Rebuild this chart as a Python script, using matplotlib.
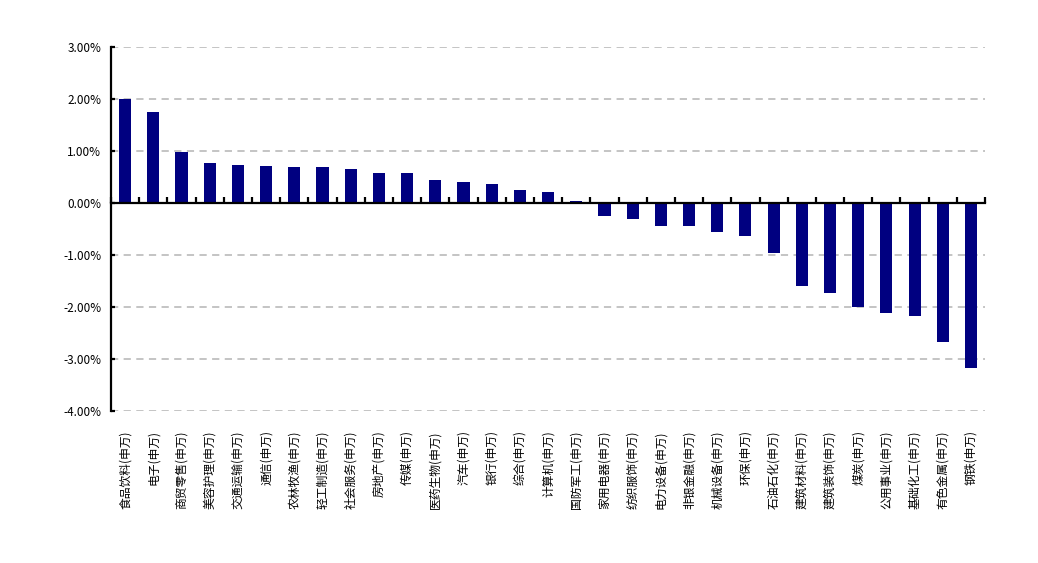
import numpy as np
import matplotlib.pyplot as plt
from matplotlib.ticker import FuncFormatter, MultipleLocator

plt.rcParams['font.family'] = ['Noto Sans CJK SC', 'DejaVu Sans']

industries = ['食品饮料', '电子', '商贸零售', '美容护理', '交通运输', '通信', '农林牧渔',
              '轻工制造', '社会服务', '房地产', '传媒', '医药生物', '汽车', '银行', '综合',
              '计算机', '国防军工', '家用电器', '纺织服饰', '电力设备', '非银金融', '机械设备',
              '环保', '石油石化', '建筑材料', '建筑装饰', '煤炭', '公用事业', '基础化工',
              '有色金属', '钢铁']
labels = [name + '(申万)' for name in industries]
returns = [2.00, 1.75, 0.98, 0.77, 0.73, 0.71, 0.69, 0.69, 0.65, 0.58, 0.58,
           0.44, 0.40, 0.37, 0.25, 0.21, 0.04, -0.25, -0.30, -0.44, -0.44, -0.55,
           -0.63, -0.96, -1.60, -1.73, -2.00, -2.11, -2.17, -2.67, -3.17]

x = np.arange(len(industries))

fig = plt.figure(figsize=(10.38, 5.63), dpi=100)
ax = fig.add_axes([0.107, 0.270, 0.842, 0.6465])

ax.bar(x, returns, width=0.43, color='#000080', zorder=3)

ax.set_ylim(-4, 3)
ax.set_xlim(-0.5, len(industries) - 0.5)
ax.yaxis.set_major_locator(MultipleLocator(1))
ax.yaxis.set_major_formatter(FuncFormatter(lambda v, p: f'{v:.2f}%'))
ax.grid(axis='y', color='#BFBFBF', linestyle=(0, (4, 3)), linewidth=1.3, zorder=0)

for s in ['top', 'right']:
    ax.spines[s].set_visible(False)
ax.spines['left'].set_linewidth(1.6)
ax.spines['bottom'].set_position(('data', 0))
ax.spines['bottom'].set_linewidth(1.6)
ax.spines['bottom'].set_zorder(4)

# tick marks at category boundaries on the zero line
ax.set_xticks(np.arange(len(industries) + 1) - 0.5)
ax.tick_params(axis='x', direction='in', length=4, width=1.6, labelbottom=False)
ax.tick_params(axis='y', direction='in', length=3, width=1.6, labelsize=8.5, pad=7)

# category labels at the bottom of the plot
sec = ax.secondary_xaxis(0)
sec.set_xticks(x)
sec.set_xticklabels(labels, rotation=90, fontsize=8.5)
sec.tick_params(length=0, pad=14)
sec.spines['bottom'].set_visible(False)

fig.savefig('out.png', dpi=100)
